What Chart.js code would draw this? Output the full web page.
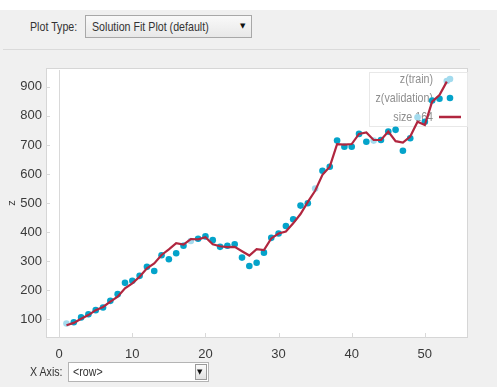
<!DOCTYPE html>
<html>
<head>
<meta charset="utf-8">
<script src="https://cdn.jsdelivr.net/npm/chart.js@4.4.1/dist/chart.umd.min.js"></script>
<style>
  html, body { margin: 0; padding: 0; }
  body {
    width: 497px; height: 387px; position: relative; overflow: hidden;
    background: #f0f0f0;
    font-family: "Liberation Sans", Arial, sans-serif;
    color: #333;
  }
  #topband { position: absolute; left: 0; top: 0; width: 497px; height: 10px; background: #fff; }
  #sep { position: absolute; left: 3px; top: 49px; width: 477px; height: 1px; background: #dadada; }
  .lbl, .txt {
    position: absolute; font-size: 13px; line-height: 16px; white-space: nowrap;
    display: inline-block; transform: scaleX(0.82); transform-origin: left center;
  }
  .dd { position: absolute; box-sizing: border-box; border: 1px solid #a8a8a8; }
  .arrow { position: absolute; font-family: "DejaVu Sans", sans-serif; font-size: 7px; color: #111; }
  #chartWrap { position: absolute; left: 0; top: 0; width: 497px; height: 387px; }
</style>
</head>
<body>
<div id="topband"></div>
<div class="lbl" style="left:30px; top:19px;">Plot Type:</div>
<div class="dd" style="left:85px; top:15px; width:167px; height:23px; background:linear-gradient(#f9f9f9,#e8e8e8);">
  <span class="txt" style="left:6px; top:3px;">Solution Fit Plot (default)</span>
  <span class="arrow" style="left:154px; top:6px;">&#9660;</span>
</div>
<div id="sep"></div>

<div id="chartWrap"><canvas id="chart" width="497" height="387"></canvas></div>

<div class="lbl" style="left:30px; top:364px;">X Axis:</div>
<div class="dd" style="left:68px; top:362px; width:141px; height:20px; background:#fff; border-color:#b4b4b4;">
  <span class="txt" style="left:4px; top:1px;">&lt;row&gt;</span>
  <span style="position:absolute; right:1px; top:1px; width:12px; height:16px; box-sizing:border-box; border:1px solid #9a9a9a; background:linear-gradient(#fafafa,#e2e2e2);"></span>
  <span class="arrow" style="left:128px; top:5px;">&#9660;</span>
</div>

<script>
// Row index of each observation
const rows = [1, 2, 3, 4, 5, 6, 7, 8, 9, 10, 11, 12, 13, 14, 15, 16, 17, 18, 19, 20,
              21, 22, 23, 24, 25, 26, 27, 28, 29, 30, 31, 32, 33, 34, 35, 36, 37, 38, 39, 40,
              41, 42, 43, 44, 45, 46, 47, 48, 49, 50, 51, 52, 53];

// Observed z per row
const zObserved = [85, 89, 106, 117, 131, 140, 163, 186, 225, 232, 249, 280, 266, 320, 306, 327, 353, 369, 377, 385,
                   372, 349, 353, 358, 312, 283, 294, 329, 380, 395, 421, 444, 491, 499, 550, 611, 625, 715, 694, 694,
                   738, 711, 715, 717, 746, 752, 680, 723, 795, 780, 853, 859, 920];

// Model output ("size 164" solution) per row
const zFit = [79, 87, 101, 114, 131, 142, 160, 177, 206, 223, 246, 275, 292, 321, 340, 362, 357, 376, 375, 382,
              358, 351, 348, 349, 334, 319, 341, 338, 378, 395, 402, 430, 462, 504, 542, 597, 625, 703, 701, 703,
              738, 743, 717, 717, 746, 713, 708, 729, 780, 769, 849, 872, 918];

// Rows that belong to the training split; all others are validation
const trainRows = [1, 18, 35, 43, 49, 53];

const xTicks = [0, 10, 20, 30, 40, 50];
const yTicks = [100, 200, 300, 400, 500, 600, 700, 800, 900];

const seriesNames = ['z(train)', 'z(validation)', 'size 164'];

const COL_TRAIN = '#a3dbee';
const COL_VALID = '#04a3ca';
const COL_FIT = '#b1263f';
const FONT = '"Liberation Sans", Arial, sans-serif';

const trainPts = [], validPts = [];
rows.forEach((r, i) => {
  const p = { x: r, y: zObserved[i] };
  (trainRows.includes(r) ? trainPts : validPts).push(p);
});
const fitPts = rows.map((r, i) => ({ x: r, y: zFit[i] }));

// Plot frame, inner tick marks, zero line and the in-plot legend
const framePlugin = {
  id: 'frame',
  beforeDraw(chart) {
    const { ctx, chartArea: a } = chart;
    ctx.save();
    ctx.fillStyle = '#ffffff';
    ctx.fillRect(a.left, a.top, a.right - a.left, a.bottom - a.top);
    ctx.strokeStyle = '#d6d6d6';
    ctx.lineWidth = 1;
    ctx.strokeRect(a.left + 0.5, a.top + 0.5, a.right - a.left - 1, a.bottom - a.top - 1);
    ctx.restore();
  },
  beforeDatasetsDraw(chart) {
    const { ctx, chartArea: a, scales } = chart;
    const xs = scales.x, ys = scales.y;
    ctx.save();
    ctx.strokeStyle = '#d9d9d9';
    ctx.lineWidth = 1;
    // vertical axis line at x = 0
    const x0 = Math.round(xs.getPixelForValue(0)) + 0.5;
    ctx.beginPath(); ctx.moveTo(x0, a.top + 2); ctx.lineTo(x0, a.bottom); ctx.stroke();
    // y tick marks (inside, from the left edge)
    yTicks.forEach(v => {
      const y = Math.round(ys.getPixelForValue(v)) + 0.5;
      ctx.beginPath(); ctx.moveTo(a.left, y); ctx.lineTo(a.left + 4, y); ctx.stroke();
    });
    // x tick marks (inside, from the bottom edge)
    xTicks.forEach(v => {
      const x = Math.round(xs.getPixelForValue(v)) + 0.5;
      ctx.beginPath(); ctx.moveTo(x, a.bottom); ctx.lineTo(x, a.bottom - 5); ctx.stroke();
    });

    // legend box in the upper-right corner
    const bx = a.right - 99, by = a.top + 4, bw = 99, bh = 55;
    ctx.fillStyle = '#ffffff';
    ctx.fillRect(bx, by, bw, bh);
    ctx.strokeStyle = '#e8e8e8';
    ctx.strokeRect(bx + 0.5, by + 0.5, bw - 1, bh - 1);
    const textX = a.right - 35, symX = a.right - 18;
    const rowsY = [by + 7, by + 26, by + 45];
    // condensed legend labels
    ctx.save();
    ctx.translate(textX, 0);
    ctx.scale(0.82, 1);
    ctx.font = '13px ' + FONT;
    ctx.fillStyle = '#8e8e8e';
    ctx.textAlign = 'right';
    ctx.textBaseline = 'middle';
    seriesNames.forEach((name, i) => ctx.fillText(name, 0, rowsY[i]));
    ctx.restore();
    ctx.fillStyle = COL_TRAIN;
    ctx.beginPath(); ctx.arc(symX, rowsY[0], 3.3, 0, Math.PI * 2); ctx.fill();
    ctx.fillStyle = COL_VALID;
    ctx.beginPath(); ctx.arc(symX, rowsY[1], 3.3, 0, Math.PI * 2); ctx.fill();
    ctx.strokeStyle = COL_FIT;
    ctx.lineWidth = 2.5;
    ctx.beginPath(); ctx.moveTo(symX - 11, rowsY[2]); ctx.lineTo(symX + 11, rowsY[2]); ctx.stroke();
    ctx.restore();
  }
};

new Chart(document.getElementById('chart'), {
  type: 'scatter',
  data: {
    datasets: [
      { label: seriesNames[2], data: fitPts, showLine: true, borderColor: COL_FIT, borderWidth: 2.2,
        pointRadius: 0, fill: false, tension: 0, order: 0 },
      { label: seriesNames[1], data: validPts, backgroundColor: COL_VALID, borderWidth: 0,
        pointRadius: 3.3, order: 1 },
      { label: seriesNames[0], data: trainPts, backgroundColor: COL_TRAIN, borderWidth: 0,
        pointRadius: 3.3, order: 2 }
    ]
  },
  options: {
    responsive: false,
    animation: false,
    devicePixelRatio: 1,
    layout: { padding: { top: 68, right: 29, left: 0, bottom: 0 } },
    plugins: { legend: { display: false }, tooltip: { enabled: false } },
    scales: {
      x: {
        type: 'linear', min: -1.8, max: 55.9,
        grid: { display: false, drawTicks: false },
        border: { display: false },
        afterBuildTicks: s => { s.ticks = xTicks.map(v => ({ value: v })); },
        afterFit: s => { s.height = 49; },
        ticks: { padding: 9, color: '#3a3a3a', font: { family: FONT, size: 13 }, maxRotation: 0 }
      },
      y: {
        type: 'linear', min: 35, max: 965,
        grid: { display: false, drawTicks: false },
        border: { display: false },
        afterBuildTicks: s => { s.ticks = yTicks.map(v => ({ value: v })); },
        afterFit: s => { s.width = 46; },
        ticks: { padding: 4, color: '#3a3a3a', font: { family: FONT, size: 13 } },
        title: { display: true, text: 'z', color: '#333', font: { family: FONT, size: 11 }, padding: { top: 5, bottom: 0 } }
      }
    }
  },
  plugins: [framePlugin]
});
</script>
</body>
</html>
